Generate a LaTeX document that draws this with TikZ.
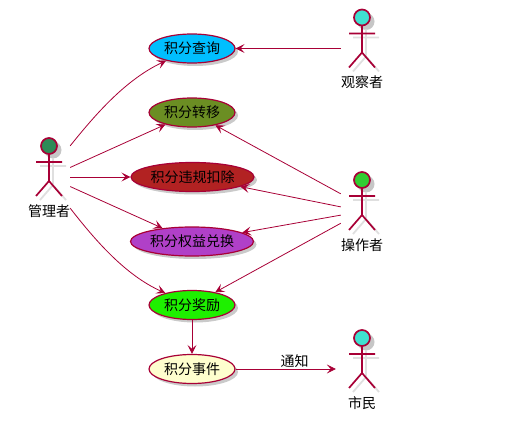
\documentclass[tikz,border=0pt]{standalone}
\usepackage{fontspec}
\setmainfont{Noto Sans CJK SC}
\usetikzlibrary{arrows.meta,shapes.geometric,shadows}
\definecolor{umlline}{HTML}{A80036}
\definecolor{eventfill}{HTML}{FEFECE}
\definecolor{seagreen}{HTML}{2E8B57}
\definecolor{turquoise}{HTML}{40E0D0}
\definecolor{limegreen}{HTML}{32CD32}
\tikzset{
  usecase/.style={ellipse,draw=umlline,line width=1.2pt,inner sep=0pt,minimum width=86pt,minimum height=29pt,
    font=\fontsize{14}{16}\selectfont,drop shadow={shadow xshift=3pt,shadow yshift=-3pt,fill=gray!70,opacity=0.6}},
  widecase/.style={usecase,minimum width=123pt},
  conn/.style={draw=umlline,line width=0.8pt,-{Stealth[length=9pt,width=9pt,inset=4pt]}},
  actorbox/.style={minimum width=42pt,minimum height=62pt,inner sep=0pt},
  actorname/.style={font=\fontsize{14}{16}\selectfont,inner sep=0pt},
}
% name, x, y of the head, head colour, text
\newcommand{\actorman}[5]{
  \begin{scope}[shift={(#2+4,#3+4)},draw=gray!25,line width=1.8pt]
    \fill[gray!45] (0,0) circle(8.5);
    \draw (-13,16)--(13,16) (0,8)--(0,35)--(-13,50) (0,35)--(13,50);
  \end{scope}
  \begin{scope}[shift={(#2,#3)},draw=umlline,line width=1.7pt]
    \draw[fill=#4] (0,0) circle(8);
    \draw (-13,16)--(13,16) (0,8)--(0,35)--(-13,50) (0,35)--(13,50);
  \end{scope}
  \node[actorbox] (#1) at (#2,#3+31) {};
  \node[actorname] (#1name) at (#2,#3+65) {#5};
}

\begin{document}
\begin{tikzpicture}[x=1pt,y=-1pt]
  \useasboundingbox (0,0) rectangle (513,430);
  \actorman{admin}{49}{146}{seagreen}{管理者}
  \actorman{observer}{362}{17.5}{turquoise}{观察者}
  \actorman{operator}{362}{180}{limegreen}{操作者}
  \actorman{citizen}{362}{338}{turquoise}{市民}

  \node[usecase,fill={rgb,255:red,0;green,191;blue,255}] (query) at (192,48.5) {积分查询};
  \node[usecase,fill={rgb,255:red,107;green,142;blue,35}] (transfer) at (192,112.5) {积分转移};
  \node[widecase,fill={rgb,255:red,178;green,34;blue,34}] (deduct) at (192.5,177) {积分违规扣除};
  \node[widecase,fill={rgb,255:red,176;green,64;blue,200}] (exchange) at (192,241.5) {积分权益兑换};
  \node[usecase,fill={rgb,255:red,30;green,240;blue,0}] (reward) at (192,305) {积分奖励};
  \node[usecase,fill=eventfill] (event) at (192,369) {积分事件};

  \draw[conn] (admin.north east) .. controls (95,115) and (125,80) .. (query);
  \draw[conn] (admin) -- (transfer);
  \draw[conn] (admin) -- (deduct);
  \draw[conn] (admin) -- (exchange);
  \draw[conn] (admin.south east) .. controls (95,240) and (125,275) .. (reward);

  \draw[conn] (observer) -- (query);
  \draw[conn] (operator.141) -- (transfer);
  \draw[conn] (operator.169) -- (deduct);
  \draw[conn] (operator.191) -- (exchange);
  \draw[conn] (operator.210) -- (reward);

  \draw[conn] (reward) -- (event);
  \draw[conn,shorten >=5pt] (event) -- node[actorname,above=1.5pt,pos=0.56] (notify) {通知} (citizen);
\end{tikzpicture}
\end{document}
